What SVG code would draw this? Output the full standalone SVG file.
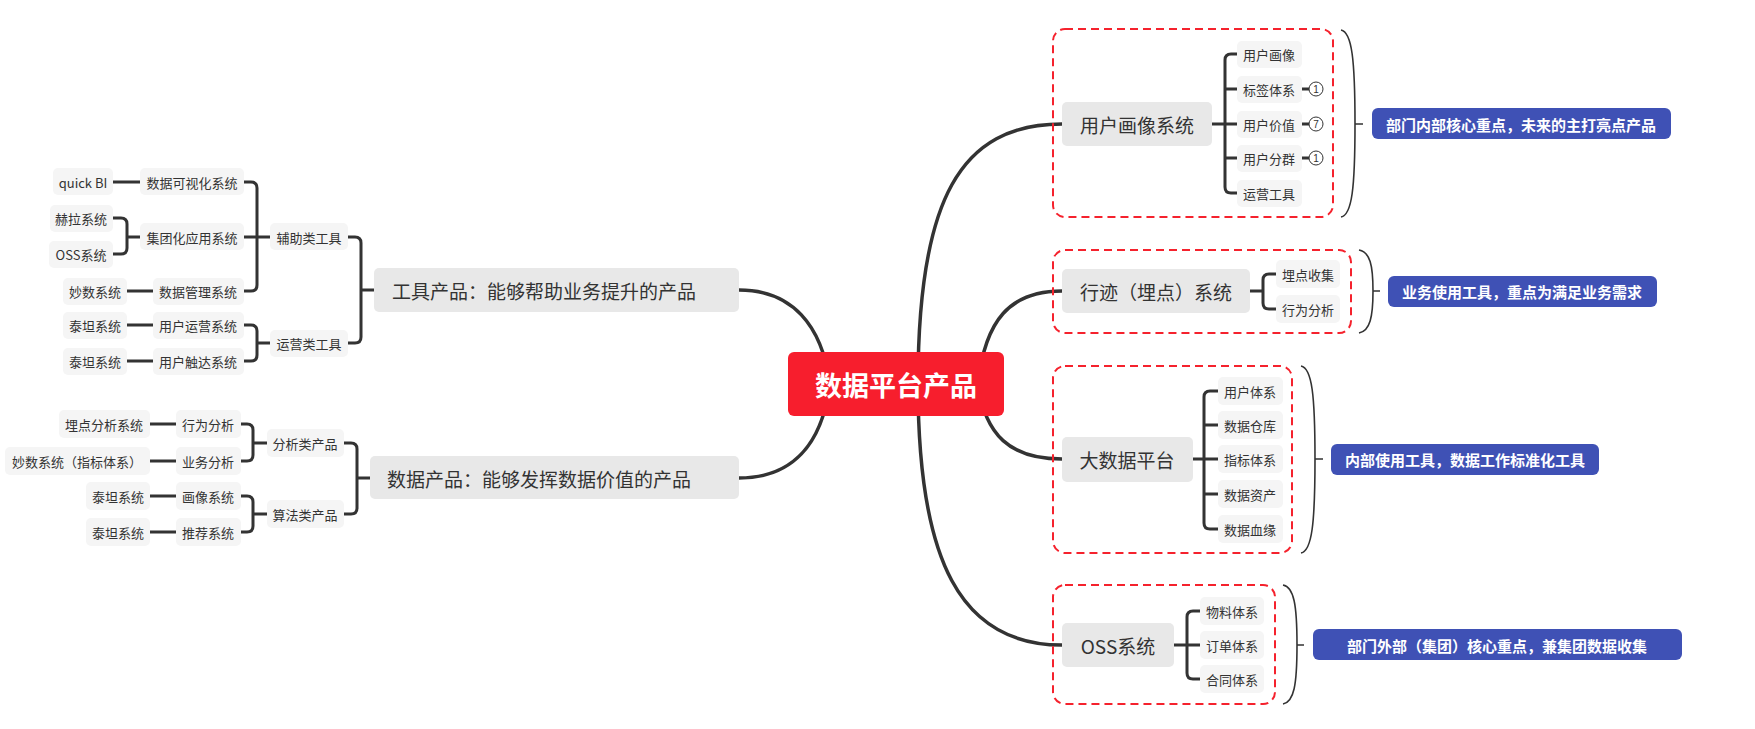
<svg xmlns="http://www.w3.org/2000/svg" width="1755" height="729" viewBox="0 0 1755 729">
<style>
text{font-family:"Noto Sans CJK SC","Noto Sans",sans-serif;dominant-baseline:central}
.l1 rect{fill:#E8E8E8}
.l1 text{font-size:19px;fill:#333;text-anchor:middle}
.l2 rect{fill:#F5F5F5}
.l2 text{font-size:13px;fill:#333;text-anchor:middle}
.sum rect{fill:#3F51B5}
.sum text{font-size:15px;font-weight:bold;fill:#fff;text-anchor:middle}
.ln{stroke:#333;stroke-width:3;fill:none;stroke-linecap:round;stroke-linejoin:round}
.mn{stroke:#333;stroke-width:3.5;fill:none;stroke-linecap:round}
.br{stroke:#333;stroke-width:1.6;fill:none}
.dash{fill:none;stroke:#F5222D;stroke-width:2;stroke-dasharray:8 5}
.mk circle{fill:#fff;stroke:#333;stroke-width:1}
.mk text{font-family:"Liberation Sans",sans-serif;font-size:10px;fill:#333;text-anchor:middle}
</style>
<g id="connectors">
<path class="mn" d="M830 384 C822 325 792 290 739 290"/>
<path class="mn" d="M830 384 C822 445 792 478 739 478"/>
<path class="mn" d="M918 384 C918 200 960 124 1062 124"/>
<path class="mn" d="M978 384 C985 320 1010 291 1062 291"/>
<path class="mn" d="M978 384 C985 435 1010 459 1062 459"/>
<path class="mn" d="M918 384 C918 560 960 645 1062 645"/>
<path class="ln" d="M348 237 H355 Q361 237 361 243 V337 Q361 343 355 343 H348 M361 290 H374"/>
<path class="ln" d="M244 182 H251 Q257 182 257 188 V285 Q257 291 251 291 H244 M244 237 H270"/>
<path class="ln" d="M244 325 H251 Q257 325 257 331 V355 Q257 361 251 361 H244 M257 343 H270"/>
<path class="ln" d="M113 182 H140 M113 218 H121 Q127 218 127 224 V248 Q127 254 121 254 H113 M127 237 H140 M127 291 H153 M127 325 H153 M127 361 H153"/>
<path class="ln" d="M344 443 H351 Q357 443 357 449 V508 Q357 514 351 514 H344 M357 478 H370"/>
<path class="ln" d="M241 424 H247 Q253 424 253 430 V455 Q253 461 247 461 H241 M253 443 H267"/>
<path class="ln" d="M241 496 H247 Q253 496 253 502 V526 Q253 532 247 532 H241 M253 514 H267"/>
<path class="ln" d="M150 424 H176 M150 461 H176 M150 496 H176 M150 532 H176"/>
<path class="ln" d="M1212 124 H1237 M1237 54 H1231 Q1225 54 1225 60 V187 Q1225 193 1231 193 H1237 M1225 89 H1237 M1225 158 H1237"/>
<path class="ln" d="M1302 89 H1309 M1302 124 H1309 M1302 158 H1309"/>
<path class="ln" d="M1250 291 H1263 M1276 274 H1269 Q1263 274 1263 280 V303 Q1263 309 1269 309 H1276"/>
<path class="ln" d="M1193 459 H1218 M1218 391 H1210 Q1204 391 1204 397 V523 Q1204 529 1210 529 H1218 M1204 425 H1218 M1204 494 H1218"/>
<path class="ln" d="M1174 645 H1200 M1200 611 H1193 Q1187 611 1187 617 V673 Q1187 679 1193 679 H1200"/>
<path class="br" d="M1341 30 C1352 32 1355 60 1355 124 C1355 188 1352 215 1341 217 M1355 124 H1363"/>
<path class="br" d="M1359 250 C1370 252 1373 265 1373 291 C1373 317 1370 331 1359 333 M1373 291 H1380"/>
<path class="br" d="M1301 366 C1312 368 1315 395 1315 459 C1315 523 1312 551 1301 553 M1315 459 H1323"/>
<path class="br" d="M1283 585 C1294 587 1297 605 1297 645 C1297 685 1294 702 1283 704 M1297 645 H1304"/>
</g>
<g id="boxes">
<rect class="dash" x="1053" y="29" width="280" height="188" rx="12"/>
<rect class="dash" x="1053" y="250" width="298" height="83" rx="12"/>
<rect class="dash" x="1053" y="366" width="239" height="187" rx="12"/>
<rect class="dash" x="1053" y="585" width="222" height="119" rx="12"/>
</g>
<g id="central"><rect x="788" y="352" width="216" height="64" rx="6" fill="#F71E2D"/><text x="896" y="384" font-size="27" font-weight="bold" fill="#fff" text-anchor="middle">数据平台产品</text></g>
<g id="tool" class="l1"><rect x="374" y="268" width="365" height="44" rx="5"/><text x="392" y="290" style="text-anchor:start">工具产品：能够帮助业务提升的产品</text></g>
<g id="data" class="l1"><rect x="370" y="456" width="369" height="43" rx="5"/><text x="387" y="478" style="text-anchor:start">数据产品：能够发挥数据价值的产品</text></g>
<g id="n-fuzhu" class="l2"><rect x="270" y="223" width="78" height="27" rx="5"/><text x="309" y="237">辅助类工具</text></g>
<g id="n-yunying" class="l2"><rect x="270" y="330" width="78" height="27" rx="5"/><text x="309" y="343">运营类工具</text></g>
<g id="n-keshihua" class="l2"><rect x="140" y="168" width="104" height="27" rx="5"/><text x="192" y="182">数据可视化系统</text></g>
<g id="n-jituan" class="l2"><rect x="140" y="223" width="104" height="27" rx="5"/><text x="192" y="237">集团化应用系统</text></g>
<g id="n-guanli" class="l2"><rect x="153" y="278" width="91" height="27" rx="5"/><text x="198" y="291">数据管理系统</text></g>
<g id="n-yhyy" class="l2"><rect x="153" y="312" width="91" height="27" rx="5"/><text x="198" y="325">用户运营系统</text></g>
<g id="n-yhcd" class="l2"><rect x="153" y="348" width="91" height="27" rx="5"/><text x="198" y="361">用户触达系统</text></g>
<g id="n-quickbi" class="l2"><rect x="53" y="168" width="60" height="27" rx="5"/><text x="83" y="182">quick BI</text></g>
<g id="n-hela" class="l2"><rect x="50" y="205" width="63" height="27" rx="5"/><text x="81" y="218">赫拉系统</text></g>
<g id="n-oss1" class="l2"><rect x="49" y="241" width="64" height="27" rx="5"/><text x="81" y="254">OSS系统</text></g>
<g id="n-miaoshu1" class="l2"><rect x="63" y="278" width="64" height="27" rx="5"/><text x="95" y="291">妙数系统</text></g>
<g id="n-taitan1" class="l2"><rect x="63" y="312" width="64" height="27" rx="5"/><text x="95" y="325">泰坦系统</text></g>
<g id="n-taitan2" class="l2"><rect x="63" y="348" width="64" height="27" rx="5"/><text x="95" y="361">泰坦系统</text></g>
<g id="n-fenxi" class="l2"><rect x="267" y="429" width="77" height="28" rx="5"/><text x="305" y="443">分析类产品</text></g>
<g id="n-suanfa" class="l2"><rect x="267" y="500" width="77" height="28" rx="5"/><text x="305" y="514">算法类产品</text></g>
<g id="n-xwfx" class="l2"><rect x="176" y="410" width="65" height="28" rx="5"/><text x="208" y="424">行为分析</text></g>
<g id="n-ywfx" class="l2"><rect x="176" y="447" width="65" height="28" rx="5"/><text x="208" y="461">业务分析</text></g>
<g id="n-hxxt" class="l2"><rect x="176" y="482" width="65" height="28" rx="5"/><text x="208" y="496">画像系统</text></g>
<g id="n-tjxt" class="l2"><rect x="176" y="518" width="65" height="28" rx="5"/><text x="208" y="532">推荐系统</text></g>
<g id="n-mdfx" class="l2"><rect x="59" y="410" width="91" height="28" rx="5"/><text x="104" y="424">埋点分析系统</text></g>
<g id="n-miaoshu2" class="l2"><rect x="5" y="447" width="145" height="28" rx="5"/><text x="77" y="461">妙数系统（指标体系）</text></g>
<g id="n-taitan3" class="l2"><rect x="86" y="482" width="64" height="28" rx="5"/><text x="118" y="496">泰坦系统</text></g>
<g id="n-taitan4" class="l2"><rect x="86" y="518" width="64" height="28" rx="5"/><text x="118" y="532">泰坦系统</text></g>
<g id="n-yhhxxt" class="l1"><rect x="1062" y="102" width="150" height="44" rx="5"/><text x="1137" y="124">用户画像系统</text></g>
<g id="n-yhhx" class="l2"><rect x="1237" y="41" width="65" height="27" rx="5"/><text x="1269" y="54">用户画像</text></g>
<g id="n-bqtx" class="l2"><rect x="1237" y="76" width="65" height="27" rx="5"/><text x="1269" y="89">标签体系</text></g>
<g id="n-yhjz" class="l2"><rect x="1237" y="111" width="65" height="27" rx="5"/><text x="1269" y="124">用户价值</text></g>
<g id="n-yhfq" class="l2"><rect x="1237" y="145" width="65" height="27" rx="5"/><text x="1269" y="158">用户分群</text></g>
<g id="n-yygj" class="l2"><rect x="1237" y="180" width="65" height="27" rx="5"/><text x="1269" y="193">运营工具</text></g>
<g id="mk1" class="mk"><circle cx="1316" cy="89" r="7"/><text x="1316" y="89">1</text></g>
<g id="mk2" class="mk"><circle cx="1316" cy="124" r="7"/><text x="1316" y="124">7</text></g>
<g id="mk3" class="mk"><circle cx="1316" cy="158" r="7"/><text x="1316" y="158">1</text></g>
<g id="n-xingji" class="l1"><rect x="1062" y="269" width="188" height="44" rx="5"/><text x="1156" y="291">行迹（埋点）系统</text></g>
<g id="n-mdsj" class="l2"><rect x="1276" y="260" width="64" height="28" rx="5"/><text x="1308" y="274">埋点收集</text></g>
<g id="n-xwfx2" class="l2"><rect x="1276" y="295" width="64" height="28" rx="5"/><text x="1308" y="309">行为分析</text></g>
<g id="n-dsj" class="l1"><rect x="1062" y="437" width="131" height="45" rx="5"/><text x="1127" y="459">大数据平台</text></g>
<g id="n-yhtx" class="l2"><rect x="1218" y="377" width="65" height="28" rx="5"/><text x="1250" y="391">用户体系</text></g>
<g id="n-sjck" class="l2"><rect x="1218" y="411" width="65" height="28" rx="5"/><text x="1250" y="425">数据仓库</text></g>
<g id="n-zbtx" class="l2"><rect x="1218" y="445" width="65" height="28" rx="5"/><text x="1250" y="459">指标体系</text></g>
<g id="n-sjzc" class="l2"><rect x="1218" y="480" width="65" height="28" rx="5"/><text x="1250" y="494">数据资产</text></g>
<g id="n-sjxy" class="l2"><rect x="1218" y="515" width="65" height="28" rx="5"/><text x="1250" y="529">数据血缘</text></g>
<g id="n-oss2" class="l1"><rect x="1062" y="623" width="112" height="44" rx="5"/><text x="1118" y="645">OSS系统</text></g>
<g id="n-wltx" class="l2"><rect x="1200" y="597" width="64" height="28" rx="5"/><text x="1232" y="611">物料体系</text></g>
<g id="n-ddtx" class="l2"><rect x="1200" y="631" width="64" height="28" rx="5"/><text x="1232" y="645">订单体系</text></g>
<g id="n-httx" class="l2"><rect x="1200" y="665" width="64" height="28" rx="5"/><text x="1232" y="679">合同体系</text></g>
<g id="s1" class="sum"><rect x="1372" y="108" width="299" height="31" rx="6"/><text x="1521" y="124">部门内部核心重点，未来的主打亮点产品</text></g>
<g id="s2" class="sum"><rect x="1388" y="276" width="269" height="31" rx="6"/><text x="1522" y="291">业务使用工具，重点为满足业务需求</text></g>
<g id="s3" class="sum"><rect x="1331" y="444" width="268" height="31" rx="6"/><text x="1465" y="459">内部使用工具，数据工作标准化工具</text></g>
<g id="s4" class="sum"><rect x="1313" y="629" width="369" height="31" rx="6"/><text x="1497" y="645">部门外部（集团）核心重点，兼集团数据收集</text></g>
</svg>
